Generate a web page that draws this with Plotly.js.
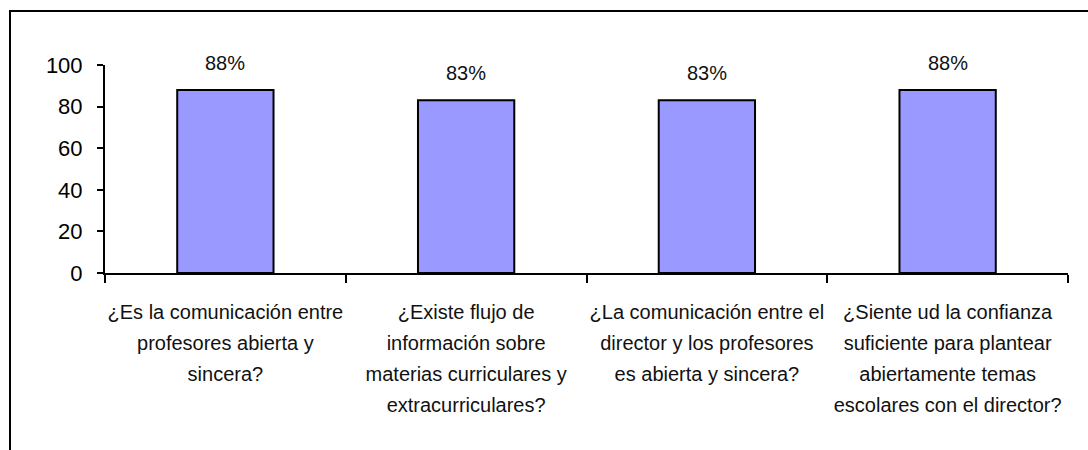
<!DOCTYPE html>
<html>
<head>
<meta charset="utf-8">
<script src="https://cdn.plot.ly/plotly-3.0.1.min.js"></script>
<style>
  html, body { margin: 0; padding: 0; background: #fff; overflow: hidden; }
  #chart { width: 1088px; height: 450px; }
</style>
</head>
<body>
<div id="chart"></div>
<script>
const categories = [
  "¿Es la comunicación entre<br>profesores abierta y<br>sincera?",
  "¿Existe flujo de<br>información sobre<br>materias curriculares y<br>extracurriculares?",
  "¿La comunicación entre el<br>director y los profesores<br>es abierta y sincera?",
  "¿Siente ud la confianza<br>suficiente para plantear<br>abiertamente temas<br>escolares con el director?"
];
const values = [88, 83, 83, 88];
const valueLabels = ["88%", "83%", "83%", "88%"];
const yTicks = [0, 20, 40, 60, 80, 100];

const font = "'Liberation Sans', Arial, sans-serif";

// tick text: glyphs drawn at 20px while line spacing follows the 24px tick font
const tickText = categories.map(c =>
  c.split('<br>').map(l => '<span style="font-size:20px">' + l + '</span>').join('<br>')
);

const trace = {
  type: 'bar',
  x: categories,
  y: values,
  width: 0.4,
  marker: { color: '#9999FF', line: { color: '#000000', width: 2 } },
  hoverinfo: 'skip'
};

const annotations = categories.map((c, i) => ({
  x: c, y: values[i], xref: 'x', yref: 'y',
  text: valueLabels[i], showarrow: false,
  yanchor: 'middle', yshift: 27,
  font: { family: font, size: 20, color: '#111' }
}));

const layout = {
  width: 1088, height: 450,
  margin: { l: 105, r: 20, t: 65, b: 177 },
  paper_bgcolor: '#ffffff', plot_bgcolor: '#ffffff',
  showlegend: false,
  xaxis: {
    type: 'category',
    tickmode: 'array', tickvals: categories, ticktext: tickText,
    tickangle: 0,
    showline: true, linecolor: '#000', linewidth: 2,
    showgrid: false, zeroline: false,
    ticks: 'outside', tickson: 'boundaries', ticklen: 8, tickwidth: 2, tickcolor: '#000',
    tickfont: { family: font, size: 24, color: '#111' },
    ticklabelstandoff: 15,
    fixedrange: true
  },
  yaxis: {
    range: [0, 100],
    tickvals: yTicks,
    showline: true, linecolor: '#000', linewidth: 2,
    showgrid: false, zeroline: false,
    ticks: 'outside', ticklen: 6, tickwidth: 2, tickcolor: '#000',
    tickfont: { family: font, size: 22, color: '#000' },
    ticklabelstandoff: 10,
    fixedrange: true
  },
  annotations: annotations,
  shapes: [{
    type: 'rect', xref: 'paper', yref: 'paper',
    x0: (10 - 105) / 963, x1: 1.2,
    y0: -1.5, y1: (273 - 11) / 208,
    line: { color: '#000', width: 2 }, fillcolor: 'rgba(0,0,0,0)', layer: 'below'
  }]
};

Plotly.newPlot('chart', [trace], layout, { staticPlot: true, displayModeBar: false });
</script>
</body>
</html>
